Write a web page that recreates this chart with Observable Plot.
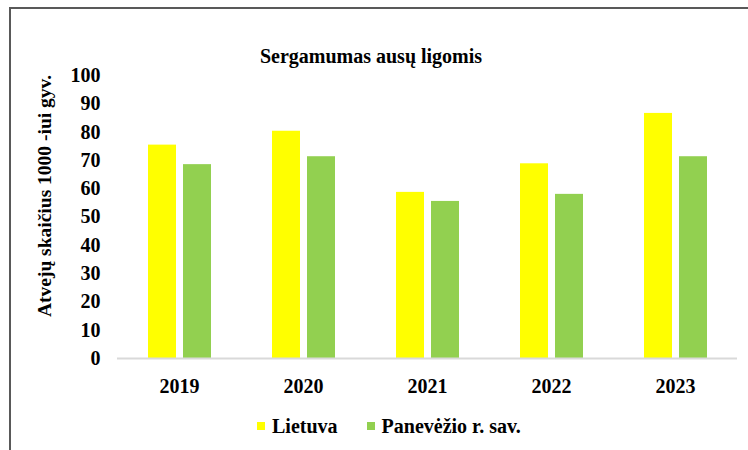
<!DOCTYPE html>
<html>
<head>
<meta charset="utf-8">
<script src="https://cdn.jsdelivr.net/npm/d3@7"></script>
<script src="https://cdn.jsdelivr.net/npm/@observablehq/plot@0.6"></script>
<style>
  body { margin: 0; background: #fff; font-family: "Liberation Serif", serif; }
  #wrap { position: relative; width: 748px; height: 450px; overflow: hidden; }
  #frame { position: absolute; left: 9px; top: 7px; width: 760px; height: 460px; border-left: 2px solid #595959; border-top: 2px solid #595959; box-sizing: border-box; }
  #title { position: absolute; top: 44px; left: 0; width: 742px; text-align: center; font-weight: bold; font-size: 20px; line-height: 24px; color: #000; }
  #ylabel { position: absolute; left: 45px; top: 196px; width: 0; height: 0; }
  #ylabel span { position: absolute; white-space: nowrap; transform: translate(-50%, -50%) rotate(-90deg); font-weight: bold; font-size: 19.5px; color: #000; }
  #chart { position: absolute; left: 0; top: 60px; }
  #chart svg text { font-family: "Liberation Serif", serif !important; font-weight: bold; }
  #legend { position: absolute; top: 414px; left: 257px; font-weight: bold; font-size: 20px; line-height: 24px; color: #000; display: flex; align-items: center; }
  #legend .sw { display: inline-block; width: 8px; height: 8px; margin-right: 7px; position: relative; top: 0px; }
  #legend .item { display: flex; align-items: center; margin-right: 29px; }
</style>
</head>
<body>
<div id="wrap">
  <div id="frame"></div>
  <div id="title">Sergamumas ausų ligomis</div>
  <div id="chart"></div>
  <div id="ylabel"><span></span></div>
  <div id="legend"></div>
</div>
<script>
const years = ["2019", "2020", "2021", "2022", "2023"];
const series = ["Lietuva", "Panevėžio r. sav."];
const lietuva = [75.4, 80.3, 58.7, 68.8, 86.6];
const panevezio = [68.5, 71.3, 55.5, 58.0, 71.3];
const colors = ["#ffff00", "#92d050"];
const yTicks = [0, 10, 20, 30, 40, 50, 60, 70, 80, 90, 100];
const yLabel = "Atvejų skaičius 1000 -iui gyv.";

const data = [];
years.forEach((y, i) => {
  data.push({year: y, series: series[0], value: lietuva[i]});
  data.push({year: y, series: series[1], value: panevezio[i]});
});

const chart = Plot.plot({
  width: 748,
  height: 340,
  marginLeft: 117,
  marginRight: 11,
  marginTop: 15,
  marginBottom: 42,
  style: {fontFamily: "Liberation Serif, serif", fontWeight: "bold", fontSize: "20px", color: "#000", background: "transparent"},
  fx: {domain: years, padding: 0, label: null},
  x: {domain: series, paddingInner: 0.2, paddingOuter: 0.871, axis: null},
  y: {domain: [0, 100], label: null},
  color: {domain: series, range: colors},
  marks: [
    Plot.axisY({ticks: yTicks, tickSize: 0, tickPadding: 17, label: null, fontSize: 20}),
    Plot.axisFx({anchor: "bottom", tickSize: 0, tickPadding: 20, label: null, fontSize: 20}),
    Plot.barY(data, {fx: "year", x: "series", y: "value", fill: "series", inset: 0}),
    Plot.ruleY([0], {stroke: "#d9d9d9", strokeWidth: 2})
  ]
});
document.getElementById("chart").appendChild(chart);
document.querySelector("#ylabel span").textContent = yLabel;

const legend = document.getElementById("legend");
series.forEach((s, i) => {
  const it = document.createElement("span");
  it.className = "item";
  const sw = document.createElement("span");
  sw.className = "sw";
  sw.style.background = colors[i];
  it.appendChild(sw);
  it.appendChild(document.createTextNode(s));
  legend.appendChild(it);
});
</script>
</body>
</html>
